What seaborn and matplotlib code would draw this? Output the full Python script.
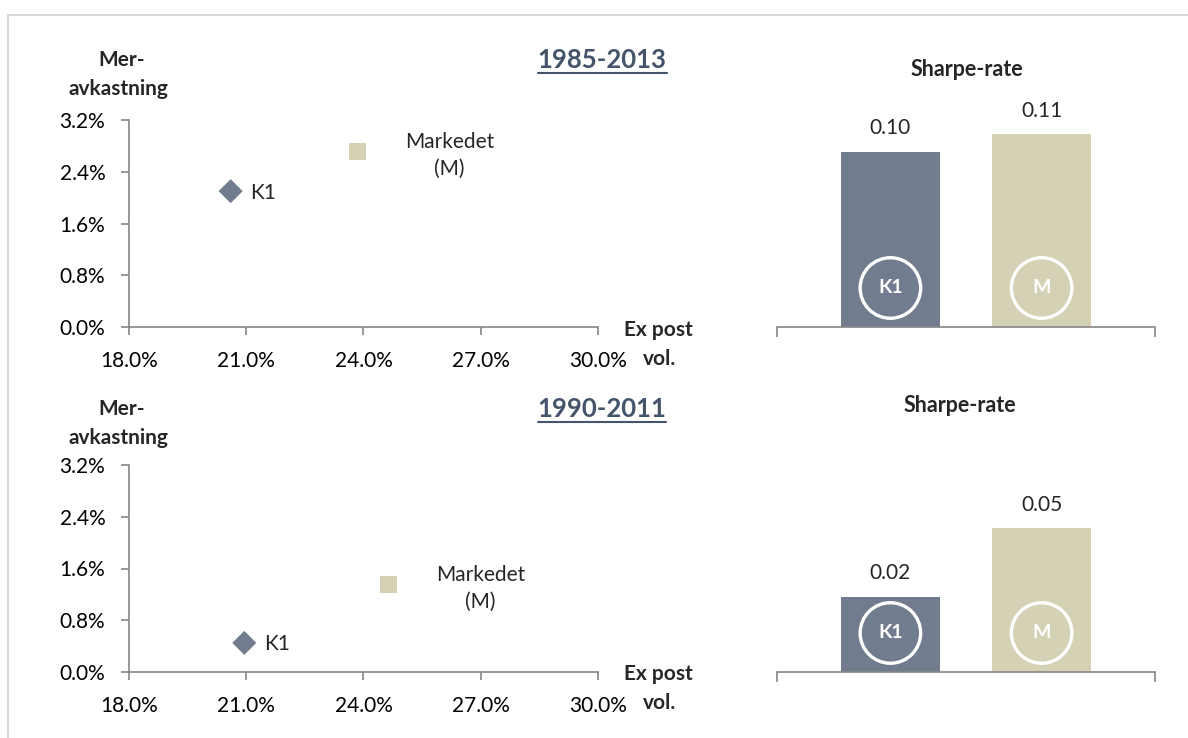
import numpy as np
import pandas as pd
import matplotlib
matplotlib.use("Agg")
import matplotlib.pyplot as plt
from matplotlib.lines import Line2D
from matplotlib.patches import Rectangle
from matplotlib.ticker import FuncFormatter
import matplotlib.transforms as mtrans
import seaborn as sns

# -------------------
# DATA
# -------------------
names = ["K1", "M"]
point_labels = ["K1", "Markedet\n(M)"]
periods = ["1985-2013", "1990-2011"]

vol_8513 = [20.6, 23.85]      # ex post vol. (%)
ret_8513 = [2.10, 2.72]       # meravkastning (%)
vol_9011 = [20.95, 24.65]
ret_9011 = [0.45, 1.36]

sharpe_8513 = [0.10, 0.11]
sharpe_9011 = [0.024, 0.046]

x_ticks = [18.0, 21.0, 24.0, 27.0, 30.0]
y_ticks = [0.0, 0.8, 1.6, 2.4, 3.2]

# -------------------
# STYLE
# -------------------
COLORS = {"K1": "#717D8F", "M": "#D4D1B4"}
AXIS_GREY = "#868686"
TITLE_COL = "#44546A"
W, H = 1188, 738
FS = 15

sns.set_theme(style="white")
plt.rcParams["font.family"] = ["Lato", "DejaVu Sans"]
plt.rcParams["font.size"] = FS

fig = plt.figure(figsize=(W / 100, H / 100), dpi=100)


def fx(px):
    return px / W


def fy(py):
    return 1 - py / H


def scatter_panel(top, vols, rets):
    ax = fig.add_axes([fx(129), fy(top + 207), fx(469), 207 / H])
    df = pd.DataFrame({"vol": vols, "ret": rets, "name": names})
    sns.scatterplot(data=df, x="vol", y="ret", hue="name", style="name",
                    markers={"K1": "D", "M": "s"}, palette=COLORS,
                    s=150, linewidth=0, legend=False, ax=ax)
    for i, r in df.iterrows():
        if r["name"] == "K1":
            ax.annotate(point_labels[i], (r["vol"], r["ret"]), xytext=(14, -1),
                        textcoords="offset points", ha="left", va="center", fontsize=FS)
        else:
            ax.annotate(point_labels[i], (r["vol"], r["ret"]), xytext=(66, -3),
                        textcoords="offset points", ha="center", va="center",
                        multialignment="center", fontsize=FS, linespacing=1.4)
    ax.set_xlim(x_ticks[0], x_ticks[-1])
    ax.set_ylim(y_ticks[0], y_ticks[-1])
    ax.set_xticks(x_ticks)
    ax.set_yticks(y_ticks)
    ax.xaxis.set_major_formatter(FuncFormatter(lambda v, p: f"{v:.1f}%"))
    ax.yaxis.set_major_formatter(FuncFormatter(lambda v, p: f"{v:.1f}%"))
    ax.set_xlabel("")
    ax.set_ylabel("")
    for s in ["top", "right"]:
        ax.spines[s].set_visible(False)
    for s in ["left", "bottom"]:
        ax.spines[s].set_color(AXIS_GREY)
        ax.spines[s].set_linewidth(1.2)
    ax.tick_params(axis="both", direction="out", length=6, width=1.2,
                   bottom=True, left=True,
                   color=AXIS_GREY, labelsize=FS, labelcolor="black")
    ax.tick_params(axis="y", pad=11)
    ax.tick_params(axis="x", pad=11)
    for c in ax.collections:
        c.set_clip_on(False)
    return ax


def bar_panel(top, vals, ymax):
    ax = fig.add_axes([fx(777), fy(top + 212), fx(378), 212 / H])
    df = pd.DataFrame({"name": names, "sharpe": vals})
    sns.barplot(data=df, x="name", y="sharpe", hue="name", palette=COLORS,
                width=0.66, saturation=1, legend=False, ax=ax)
    ax.set_xlim(-0.75, 1.75)
    ax.set_ylim(0, ymax)
    for p in ax.patches:
        p.set_linewidth(0)
    for i, v in enumerate(vals):
        ax.annotate(f"{v:.2f}", (i, v), xytext=(0, 17), textcoords="offset points",
                    ha="center", va="center", fontsize=FS)
    # circled labels inside bars
    trans = mtrans.blended_transform_factory(ax.transData, ax.transAxes)
    for i, n in enumerate(names):
        ax.scatter([i], [0.184], transform=trans, s=1900, facecolors="none",
                   edgecolors="white", linewidths=2.4, zorder=5)
        ax.text(i, 0.184, n, transform=trans, ha="center", va="center",
                color="white", fontsize=14, fontweight="bold", zorder=6)
    ax.set_xticks([-0.75, 1.75])
    ax.set_xticklabels(["", ""])
    ax.set_yticks([])
    ax.set_xlabel("")
    ax.set_ylabel("")
    for s in ["top", "right", "left"]:
        ax.spines[s].set_visible(False)
    ax.spines["bottom"].set_color(AXIS_GREY)
    ax.spines["bottom"].set_linewidth(1.2)
    ax.tick_params(axis="x", direction="out", length=7, width=1.2,
                   bottom=True, color=AXIS_GREY)
    return ax


# -------------------
# PANELS
# -------------------
scatter_panel(120, vol_8513, ret_8513)
scatter_panel(465, vol_9011, ret_9011)
bar_panel(115, sharpe_8513, 0.1211)
bar_panel(460, sharpe_9011, 0.0678)

# texts
titles = []
for top_y, sharpe_x, per in [(0, 967, periods[0]), (349, 960, periods[1])]:
    fig.text(fx(122), fy(60 + top_y), "Mer-", ha="center", va="center",
             fontsize=15, fontweight="bold")
    fig.text(fx(118), fy(89 + top_y), "avkastning", ha="center", va="center",
             fontsize=15, fontweight="bold")
    fig.text(fx(658), fy(330 + top_y * 0.985), "Ex post", ha="center", va="center",
             fontsize=15, fontweight="bold")
    fig.text(fx(660), fy(359 + top_y * 0.985), "vol.", ha="center", va="center",
             fontsize=15, fontweight="bold")
    fig.text(fx(sharpe_x), fy(69 + top_y * 0.965), "Sharpe-rate", ha="center",
             va="center", fontsize=15.5, fontweight="bold")
    t = fig.text(fx(602), fy(60 + top_y), per, ha="center", va="center",
                 fontsize=18.5, fontweight="bold", color=TITLE_COL)
    titles.append(t)

# outer frame (light grey)
fig.add_artist(Rectangle((fx(8), fy(745)), 1.2, fy(15) - fy(745),
                         transform=fig.transFigure, fill=False,
                         edgecolor="#D9D9D9", linewidth=1.5))

# underline the period titles
fig.canvas.draw()
r = fig.canvas.get_renderer()
for t in titles:
    bb = t.get_window_extent(r)
    y = bb.y0 - 1
    fig.add_artist(Line2D([bb.x0 / W, bb.x1 / W], [y / H, y / H],
                          transform=fig.transFigure, color=TITLE_COL, linewidth=1.5))

fig.savefig("out.png", dpi=100)
